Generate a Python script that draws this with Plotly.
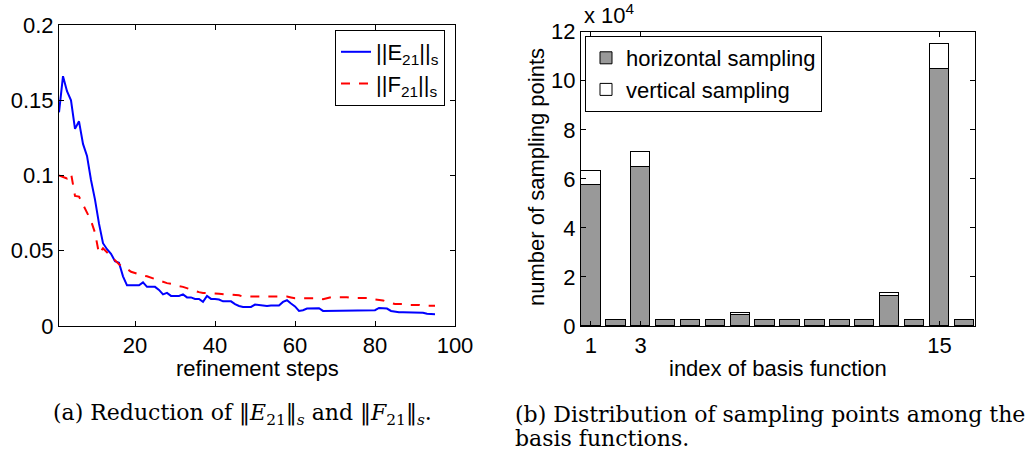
import plotly.graph_objects as go

# ---------------- data: left panel ----------------
steps_E = list(range(1, 96))
E21 = [0.142, 0.166, 0.156, 0.150, 0.131, 0.136, 0.121, 0.113, 0.097, 0.084,
       0.068, 0.055, 0.051, 0.048, 0.043, 0.042, 0.033, 0.027, 0.027, 0.027,
       0.027, 0.029, 0.026, 0.026, 0.026, 0.024, 0.021, 0.022, 0.020, 0.020,
       0.020, 0.021, 0.019, 0.019, 0.018, 0.018, 0.016, 0.020, 0.018, 0.018,
       0.0176, 0.0164, 0.0164, 0.0164, 0.0145, 0.0133, 0.0127, 0.0127, 0.0127, 0.0142,
       0.0138, 0.0136, 0.0133, 0.0136, 0.0136, 0.0136, 0.0160, 0.0171, 0.0150, 0.0130,
       0.0100, 0.0105, 0.0116, 0.0116, 0.0116, 0.0118, 0.0100, 0.0100, 0.0100, 0.0100,
       0.0100, 0.0100, 0.0100, 0.0100, 0.0100, 0.0100, 0.0100, 0.0100, 0.0100, 0.0105,
       0.0120, 0.0118, 0.0116, 0.0100, 0.0095, 0.0092, 0.0091, 0.0091, 0.0087, 0.0087,
       0.0087, 0.0088, 0.0081, 0.0079, 0.0078]
steps_F = list(range(1, 96))
F21 = [0.100, 0.099, 0.098, 0.1016, 0.0864, 0.086, 0.081, 0.075, 0.070, 0.062,
       0.048, 0.0516, 0.049, 0.046, 0.044, 0.041, 0.039, 0.038, 0.036, 0.035,
       0.034, 0.0335, 0.033, 0.032, 0.031, 0.030, 0.029, 0.0285, 0.028, 0.027,
       0.0265, 0.026, 0.025, 0.024, 0.023, 0.0225, 0.022, 0.022, 0.0216, 0.0216,
       0.0214, 0.0212, 0.0210, 0.0208, 0.0205, 0.0204, 0.0195, 0.0195, 0.0195, 0.0198,
       0.0198, 0.0198, 0.0198, 0.0198, 0.0198, 0.0198, 0.0198, 0.0196, 0.0190, 0.0184,
       0.0184, 0.0184, 0.0184, 0.0184, 0.0184, 0.0184, 0.0178, 0.0185, 0.0191, 0.0191,
       0.0191, 0.0191, 0.0191, 0.0186, 0.0186, 0.0186, 0.0186, 0.0186, 0.0186, 0.0176,
       0.0172, 0.0170, 0.0160, 0.0153, 0.0146, 0.0146, 0.0146, 0.0140, 0.0140, 0.0140,
       0.0140, 0.0134, 0.0134, 0.0134, 0.0134]
left_xticks = [20, 40, 60, 80, 100]
left_yticks = [0, 0.05, 0.1, 0.15, 0.2]
left_yticklabels = ["0", "0.05", "0.1", "0.15", "0.2"]

# ---------------- data: right panel ----------------
basis_index = list(range(1, 17))
horizontal = [5.75e4, 0.26e4, 6.49e4, 0.26e4, 0.26e4, 0.26e4, 0.46e4, 0.26e4,
              0.26e4, 0.26e4, 0.26e4, 0.26e4, 1.25e4, 0.26e4, 10.49e4, 0.26e4]
vertical = [0.57e4, 0, 0.62e4, 0, 0, 0, 0.07e4, 0,
            0, 0, 0, 0, 0.12e4, 0, 1.03e4, 0]
right_xticks = [1, 3, 15]
right_yticks = [0, 2e4, 4e4, 6e4, 8e4, 10e4, 12e4]
right_yticklabels = ["0", "2", "4", "6", "8", "10", "12"]

W, H = 1027, 460
SANS = "Liberation Sans"
SERIF = "DejaVu Serif"
FS = 22

def px(x):
    return x / W

def py(y):
    return 1 - y / H

fig = go.Figure()

fig.add_trace(go.Scatter(x=steps_E, y=E21, mode="lines",
                         line=dict(color="#0000ff", width=2),
                         name="||E<sub>21</sub>||<sub>s</sub>",
                         xaxis="x", yaxis="y", legend="legend"))
fig.add_trace(go.Scatter(x=steps_F, y=F21, mode="lines",
                         line=dict(color="#ff0000", width=2, dash="dash"),
                         name="||F<sub>21</sub>||<sub>s</sub>",
                         xaxis="x", yaxis="y", legend="legend"))

fig.add_trace(go.Bar(x=basis_index, y=horizontal, width=0.78,
                     marker=dict(color="#999999", line=dict(color="black", width=1)),
                     name="horizontal sampling", xaxis="x2", yaxis="y2", legend="legend2"))
fig.add_trace(go.Bar(x=basis_index, y=vertical, width=0.78,
                     marker=dict(color="#ffffff", line=dict(color="black", width=1)),
                     name="vertical sampling", xaxis="x2", yaxis="y2", legend="legend2"))

axis_common = dict(showline=True, linecolor="black", linewidth=1, mirror="ticks",
                   ticks="inside", ticklen=5, tickcolor="black",
                   showgrid=False, zeroline=False, automargin=False,
                   tickfont=dict(family=SANS, size=FS, color="black"))

fig.update_layout(
    template="none",
    width=W, height=H,
    margin=dict(l=0, r=0, t=0, b=0, pad=0, autoexpand=False),
    paper_bgcolor="white", plot_bgcolor="white",
    barmode="stack", bargap=0,
    xaxis=dict(domain=[px(59), px(455)], range=[1, 100], tickvals=left_xticks,
               anchor="y", **axis_common),
    yaxis=dict(domain=[py(326), py(25)], range=[0, 0.2], tickvals=left_yticks,
               ticktext=left_yticklabels, anchor="x", **axis_common),
    xaxis2=dict(domain=[px(581), px(975)], range=[0.6, 16.43], tickvals=right_xticks,
                anchor="y2", **axis_common),
    yaxis2=dict(domain=[py(326), py(31.7)], range=[0, 12e4], tickvals=right_yticks,
                ticktext=right_yticklabels, anchor="x2", **axis_common),
    legend=dict(x=px(335), y=py(30), xanchor="left", yanchor="top",
                bgcolor="white", bordercolor="black", borderwidth=1,
                font=dict(family=SANS, size=FS, color="black"),
                tracegroupgap=0, itemwidth=30),
    legend2=dict(x=px(585), y=py(36), xanchor="left", yanchor="top",
                 bgcolor="white", bordercolor="black", borderwidth=1,
                 font=dict(family=SANS, size=FS, color="black"),
                 tracegroupgap=0, traceorder="normal"),
    showlegend=True,
)

def note(text, x, y, xanchor="center", yanchor="middle", family=SANS, angle=0):
    return dict(text=text, x=px(x), y=py(y), xref="paper", yref="paper",
                xanchor=xanchor, yanchor=yanchor, textangle=angle, showarrow=False,
                font=dict(family=family, size=FS, color="black"))

annotations = [
    note("refinement steps", 257, 368),
    note("index of basis function", 778, 368),
    note("number of sampling points", 536, 177, angle=-90),
    note("x 10<sup>4</sup>", 582, 30, xanchor="left", yanchor="bottom"),
    note("(a) Reduction of ‖<i>E</i><sub>21</sub>‖<sub><i>s</i></sub> and ‖<i>F</i><sub>21</sub>‖<sub><i>s</i></sub>.",
         51, 414, xanchor="left", family=SERIF),
    note("(b) Distribution of sampling points among the", 513, 414, xanchor="left", family=SERIF),
    note("basis functions.", 513, 438, xanchor="left", family=SERIF),
]
fig.update_layout(annotations=annotations)

fig.write_html("out.html")
